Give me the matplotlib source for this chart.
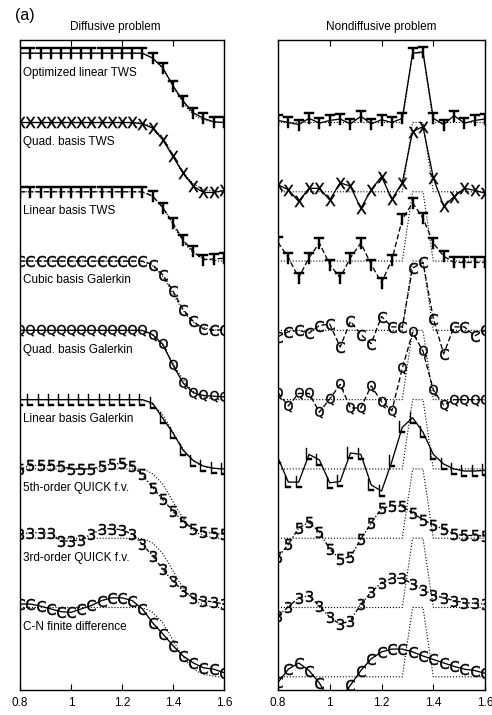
"""
plot.py - stacked profiles, diffusive vs nondiffusive advection tests
"""
import numpy as np
import matplotlib
matplotlib.use("Agg")
import matplotlib.pyplot as plt

plt.rcParams["font.family"] = ["Liberation Sans", "DejaVu Sans"]

# grid nodes (dx = 0.04)
x_nodes = np.linspace(0.8, 1.6, 21)

labels = [
    "Optimized linear TWS",
    "Quad. basis TWS",
    "Linear basis TWS",
    "Cubic basis Galerkin",
    "Quad. basis Galerkin",
    "Linear basis Galerkin",
    "5th-order QUICK f.v.",
    "3rd-order QUICK f.v.",
    "C-N finite difference",
]
markers = ["T", "X", "T", "C", "Q", "L", "5", "3", "C"]

# exact solutions
x_exact_left = np.linspace(0.8, 1.6, 41)
exact_left = [1.0] * 24 + [0.99, 0.97, 0.93, 0.86, 0.78, 0.66, 0.53, 0.40, 0.29,
                           0.19, 0.12, 0.07, 0.04, 0.02, 0.01, 0.0, 0.0]
x_exact_right = [0.8, 1.28, 1.32, 1.36, 1.40, 1.6]
exact_right = [0.0, 0.0, 1.0, 1.0, 0.0, 0.0]

# diffusive problem, numerical profiles
opt_tws_d = [1] * 12 + [1.0, 0.93, 0.79, 0.53, 0.31, 0.14, 0.06, 0.01, 0.0]
quad_tws_d = [1] * 12 + [0.98, 0.92, 0.75, 0.51, 0.27, 0.08, -0.01, -0.01, 0.02]
lin_tws_d = [1] * 12 + [1.0, 0.94, 0.77, 0.55, 0.30, 0.14, 0.02, 0.03, 0.04]
cub_gal_d = [1] * 12 + [1.0, 0.95, 0.80, 0.57, 0.30, 0.13, 0.02, 0.0, 0.01]
quad_gal_d = [1] * 12 + [1.0, 0.94, 0.80, 0.50, 0.24, 0.10, 0.06, 0.05, 0.04]
lin_gal_d = [1] * 12 + [1.0, 0.95, 0.73, 0.52, 0.27, 0.12, 0.04, 0.01, 0.0]
quick5_d = [1.0, 1.05, 1.05, 1.05, 1.04, 1.0, 1.0, 1.0, 1.04, 1.07, 1.08,
            1.04, 0.92, 0.73, 0.56, 0.39, 0.24, 0.13, 0.09, 0.07, 0.06]
quick3_d = [1.06, 1.08, 1.08, 1.07, 0.96, 0.96, 0.98, 1.06, 1.13, 1.14, 1.12,
            1.06, 0.91, 0.75, 0.55, 0.38, 0.24, 0.14, 0.10, 0.08, 0.05]
cn_d = [1.05, 1.05, 1.02, 0.98, 0.94, 0.93, 0.98, 1.03, 1.10, 1.14, 1.14,
        1.10, 0.98, 0.78, 0.62, 0.45, 0.30, 0.20, 0.13, 0.11, 0.06]

# nondiffusive problem, numerical profiles
opt_tws_n = [0.03, 0.0, -0.03, 0.06, -0.01, 0.03, 0.05, -0.02, 0.09, -0.02, 0.04,
             0.0, 0.06, 1.0, 1.02, 0.06, -0.03, 0.10, -0.01, 0.03, 0.05]
quad_tws_n = [0.10, 0.03, -0.14, 0.05, 0.05, -0.12, 0.13, 0.08, -0.24, 0.03, 0.22,
              -0.11, 0.13, 0.87, 0.94, 0.20, -0.21, -0.07, 0.05, 0.02, -0.02]
lin_tws_n = [0.27, 0.05, -0.24, 0.05, 0.26, -0.05, -0.24, 0.05, 0.26, -0.05, -0.31,
             0.02, 0.60, 0.84, 0.62, 0.26, 0.07, -0.02, -0.02, -0.02, -0.02]
cub_gal_n = [-0.09, -0.02, 0.0, -0.04, 0.07, 0.09, -0.24, 0.13, -0.06, -0.19, 0.20,
             0.05, 0.05, 0.90, 0.98, 0.17, -0.34, 0.05, 0.05, -0.08, 0.0]
quad_gal_n = [0.10, -0.09, 0.09, 0.09, -0.18, 0.01, 0.22, -0.12, -0.12, 0.20, -0.03,
              -0.16, 0.45, 0.97, 0.70, 0.14, -0.08, 0.0, 0.0, 0.0, 0.0]
lin_gal_n = [0.16, -0.19, -0.19, 0.21, 0.13, -0.20, -0.18, 0.23, 0.21, -0.23, -0.32,
             0.11, 0.60, 0.74, 0.53, 0.21, 0.07, 0.0, -0.03, -0.03, -0.02]
quick5_n = [-0.27, -0.09, 0.15, 0.23, 0.09, -0.16, -0.30, -0.27, -0.01, 0.22, 0.43,
            0.47, 0.46, 0.36, 0.27, 0.19, 0.13, 0.06, 0.04, 0.04, 0.03]
quick3_n = [-0.12, 0.01, 0.14, 0.17, 0.02, -0.14, -0.24, -0.19, 0.05, 0.22, 0.36,
            0.42, 0.42, 0.34, 0.26, 0.18, 0.14, 0.10, 0.07, 0.06, 0.05]
cn_n = [-0.08, 0.11, 0.20, 0.09, -0.09, -0.35, -0.32, -0.12, 0.09, 0.26, 0.36,
        0.40, 0.40, 0.36, 0.30, 0.25, 0.20, 0.15, 0.11, 0.09, 0.05]

diffusive = [opt_tws_d, quad_tws_d, lin_tws_d, cub_gal_d, quad_gal_d,
             lin_gal_d, quick5_d, quick3_d, cn_d]
nondiffusive = [opt_tws_n, quad_tws_n, lin_tws_n, cub_gal_n, quad_gal_n,
                lin_gal_n, quick5_n, quick3_n, cn_n]

# line styles per curve
DASH = (0, (4, 2))
DASHDOT = (0, (3, 1.5, 1, 1.5))
styles_left = ["-", "-", DASH, DASH, "-", "-", DASHDOT, DASHDOT, "-"]
styles_right = ["-", "-", DASH, DASH, DASH, "-", DASHDOT, DASHDOT, "-"]

fig = plt.figure(figsize=(4.92, 7.15), dpi=100)
ax_l = fig.add_axes([0.041, 0.035, 0.414, 0.909])
ax_r = fig.add_axes([0.565, 0.035, 0.421, 0.909])

n = len(labels)
for ax, data, exact_x, exact_y, styles in [
    (ax_l, diffusive, x_exact_left, exact_left, styles_left),
    (ax_r, nondiffusive, x_exact_right, exact_right, styles_right),
]:
    for k in range(n):
        off = n - 1 - k
        ax.plot(exact_x, np.asarray(exact_y) + off, linestyle=":",
                color="black", linewidth=0.8)
        ax.plot(x_nodes, np.asarray(data[k]) + off, linestyle=styles[k],
                color="black", linewidth=0.95,
                marker=r"$\mathsf{%s}$" % markers[k], markersize=8,
                markeredgewidth=0.3)
    ax.set_xlim(0.8, 1.6)
    ax.set_ylim(-0.19, 9.19)
    ax.set_xticks([0.8, 1.0, 1.2, 1.4, 1.6])
    ax.set_xticklabels(["0.8", "1", "1.2", "1.4", "1.6"], fontsize=8.5)
    ax.set_yticks([])
    ax.tick_params(axis="x", direction="in", top=True, length=4, width=0.8, pad=5)
    for sp in ax.spines.values():
        sp.set_linewidth(1.0)

for k in range(n):
    ax_l.text(0.81, (n - 1 - k) + 0.72, labels[k], fontsize=8.5,
              ha="left", va="center")

fig.text(0.235, 0.962, "Diffusive problem", fontsize=8.5, ha="center", va="center")
fig.text(0.775, 0.962, "Nondiffusive problem", fontsize=8.5, ha="center", va="center")
fig.text(0.03, 0.979, "(a)", fontsize=11.5, ha="left", va="center")

fig.savefig("out.png", dpi=100)
